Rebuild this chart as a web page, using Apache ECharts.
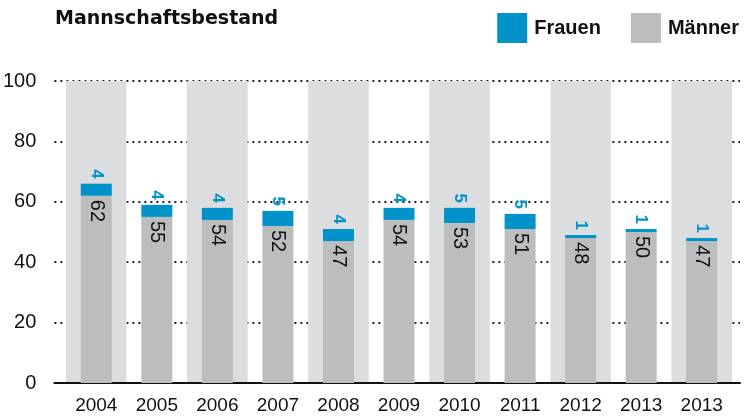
<!DOCTYPE html>
<html lang="de">
<head>
    <meta charset="UTF-8">
    <title>Mannschaftsbestand</title>
    <style>
        html, body { margin: 0; padding: 0; background: #fff; }
        #main { width: 752px; height: 419px; }
    </style>
</head>
<body>
    <div id="main"></div>
<script src="https://cdn.jsdelivr.net/npm/echarts@6/dist/echarts.min.js"></script>
<script>
    var years = ['2004', '2005', '2006', '2007', '2008', '2009', '2010', '2011', '2012', '2013', '2013']
    var maenner = [62, 55, 54, 52, 47, 54, 53, 51, 48, 50, 47]
    var frauen = [4, 4, 4, 5, 4, 4, 5, 5, 1, 1, 1]
    var yTicks = [0, 20, 40, 60, 80, 100]

    // no condensed face installed, Liberation Sans is the narrowest one here
    var font = "'Liberation Sans', Arial, sans-serif"
    var main = echarts.init(document.getElementById('main'))

    var option = {
        animation: false,
        title: {
            text: 'Mannschaftsbestand',
            left: 50,
            top: 5,
            textStyle: { fontFamily: "'DejaVu Sans', sans-serif", fontWeight: 'bold', fontSize: 19, color: '#111' }
        },
        legend: {
            data: ['Frauen', 'Männer'],
            right: 8,
            top: 8,
            itemWidth: 30,
            itemHeight: 30,
            itemGap: 30,
            icon: 'rect',
            textStyle: { fontFamily: font, fontSize: 20, fontWeight: 'bold', color: '#111', padding: [0, 0, 0, 2] }
        },
        grid: [
            { left: 66, right: 20, top: 81, bottom: 36 },
            { left: 54, right: 12, top: 81, bottom: 36 }
        ],
        xAxis: [
            {
                type: 'category',
                gridIndex: 0,
                data: years,
                axisLine: { show: false },
                axisTick: { show: false },
                axisLabel: { margin: 13, fontFamily: font, fontSize: 19, color: '#111' },
                splitArea: { show: true, areaStyle: { color: ['#dcdddf', 'rgba(255,255,255,0)'] } }
            },
            {
                type: 'category',
                gridIndex: 1,
                data: [''],
                axisLine: { show: true, lineStyle: { color: '#111', width: 2 } },
                axisTick: { show: false },
                axisLabel: { show: false }
            }
        ],
        yAxis: [
            { type: 'value', gridIndex: 0, min: 0, max: 100, show: false },
            {
                type: 'value',
                gridIndex: 1,
                min: 0,
                max: 100,
                interval: 20,
                axisLine: { show: false },
                axisTick: { show: false },
                axisLabel: {
                    margin: 18,
                    fontFamily: font,
                    fontSize: 20,
                    color: '#111',
                    formatter: function (v) { return yTicks.indexOf(v) >= 0 ? String(v) : '' }
                },
                splitLine: { show: true, lineStyle: { color: '#222', width: 2, type: [2, 4] } }
            }
        ],
        series: [
            {
                name: 'Männer',
                type: 'bar',
                stack: 'total',
                barWidth: 31,
                itemStyle: { color: '#bcbdbf' },
                label: {
                    show: true,
                    position: ['50%', 4],
                    rotate: -90,
                    align: 'left',
                    verticalAlign: 'middle',
                    fontFamily: font,
                    fontSize: 20,
                    color: '#111'
                },
                data: maenner
            },
            {
                name: 'Frauen',
                type: 'bar',
                stack: 'total',
                barWidth: 31,
                itemStyle: { color: '#0092c8' },
                label: {
                    show: true,
                    position: 'top',
                    distance: 5,
                    rotate: -90,
                    align: 'right',
                    verticalAlign: 'middle',
                    fontFamily: font,
                    fontWeight: 'bold',
                    fontSize: 17,
                    color: '#0092c8'
                },
                data: frauen
            }
        ]
    }
    main.setOption(option)
</script>
</body>
</html>
